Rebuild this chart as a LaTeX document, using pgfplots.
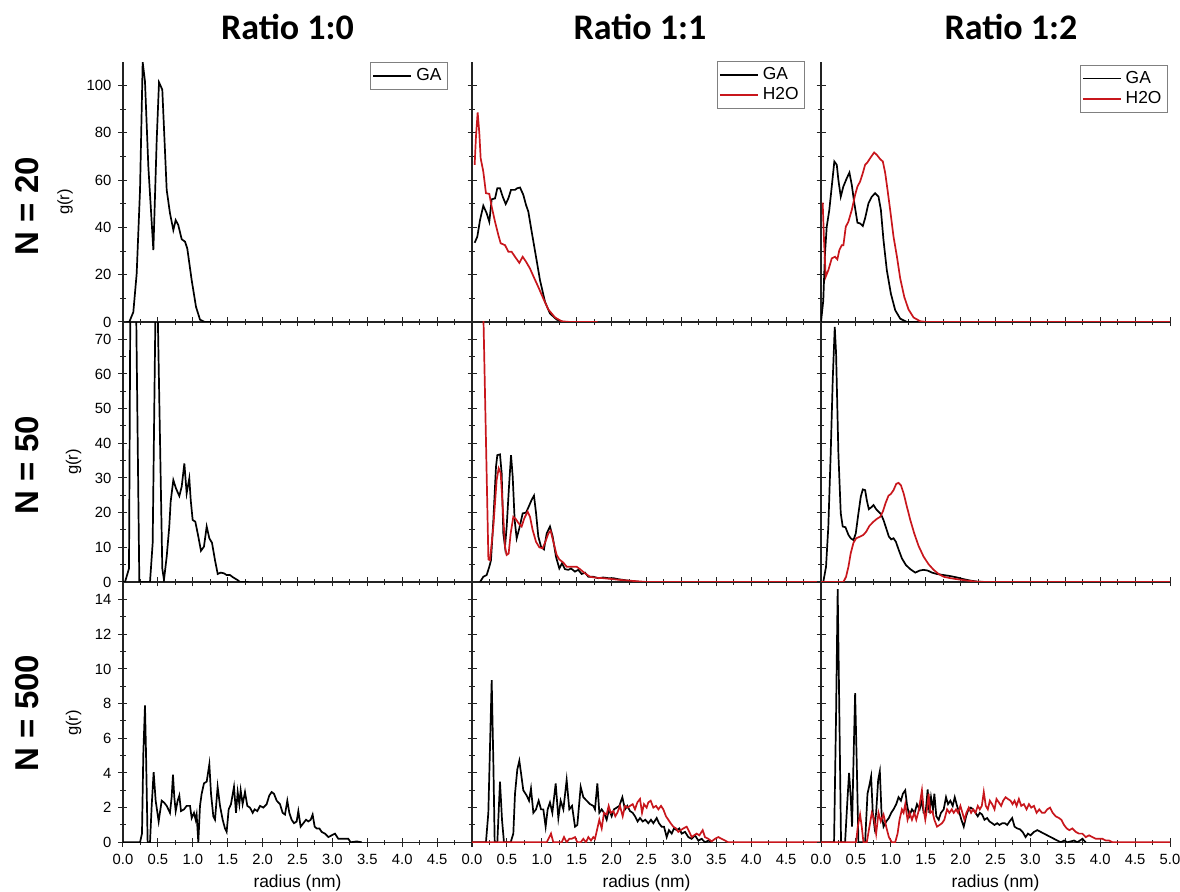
\documentclass[border=0pt]{standalone}
\usepackage{fontspec}
\setmainfont{Liberation Sans}
\newfontfamily\titlefont{Carlito}
\usepackage{pgfplots}
\pgfplotsset{compat=1.18}
\definecolor{h2ored}{RGB}{200,22,28}
\definecolor{axgray}{RGB}{35,35,35}

\pgfplotsset{
  panel/.style={
    scale only axis, width=174.5pt, height=130pt,
    xmin=0, xmax=5, ymin=0,
    axis x line=bottom, axis y line=left,
    axis line style={-, axgray, line width=0.6pt},
    xtick={0,0.5,1,1.5,2,2.5,3,3.5,4,4.5,5},
    minor x tick num=1, minor y tick num=1,
    tick align=center, major tick length=4.5pt, minor tick length=2.6pt,
    tick style={axgray, line width=0.5pt},
    every tick label/.append style={font=\fontsize{7.4}{8}\selectfont},
    /pgf/number format/assume math mode=true,
    legend cell align=left,
    legend image code/.code={\draw[##1, line width=0.9pt] (0pt,0pt) -- (19pt,0pt);},
    legend style={draw=gray, font=\fontsize{8.7}{9}\selectfont, inner sep=1pt, row sep=-1.5pt, anchor=north east},
    clip mode=individual,
  },
  ga/.style={black, line width=0.85pt, mark=none},
  wa/.style={h2ored, line width=0.85pt, mark=none},
  row1/.style={ymax=110, ytick={0,20,40,60,80,100}},
  row2/.style={ymax=75, ytick={0,10,20,30,40,50,60,70}},
  row3/.style={ymax=15, ytick={0,2,4,6,8,10,12,14}},
}

\begin{document}
\begin{tikzpicture}
\useasboundingbox (0,0) rectangle (590pt,446pt);

% ---------------- Row 1: N = 20 ----------------
\begin{axis}[panel, row1, at={(61.5pt,285pt)}, anchor=south west, xticklabels={},
  legend style={at={(0.931,1.0)}}]
\addplot[ga] coordinates {(0.05,0)(0.09,0)(0.148,4.2)(0.196,20.5)(0.244,55.9)(0.282,109.9)(0.315,101.8)(0.363,65.8)(0.435,30.4)(0.483,77.1)(0.516,101.4)(0.563,98.3)(0.626,55.9)(0.673,46)(0.721,38.9)(0.755,43.1)(0.792,41)(0.841,35)(0.888,34)(0.921,31.1)(0.984,17.7)(1.046,6.4)(1.103,1)(1.17,0)(1.3,0)};
\addlegendentry{GA}
\end{axis}

\begin{axis}[panel, row1, at={(236pt,285pt)}, anchor=south west, xticklabels={}, yticklabels={},
  legend style={at={(0.954,1.005)}}]
\addplot[ga] coordinates {(0.038,33.5)(0.076,36.1)(0.115,43.1)(0.162,49.2)(0.21,46)(0.248,42.4)(0.282,51.9)(0.33,52.3)(0.363,56.6)(0.401,56.6)(0.44,53)(0.483,49.9)(0.521,52.3)(0.559,55.9)(0.616,55.9)(0.649,56.6)(0.688,56.9)(0.735,53.8)(0.774,49.5)(0.807,46.7)(0.855,38.2)(0.917,27.6)(0.974,17.7)(1.046,8.5)(1.117,3.6)(1.213,1)(1.31,0)(1.5,0)};
\addlegendentry{GA}
\addplot[wa] coordinates {(0.038,66.5)(0.057,78.5)(0.081,88.7)(0.105,79.9)(0.124,69.3)(0.162,63.6)(0.2,54.5)(0.248,54.2)(0.282,48.8)(0.33,42.4)(0.377,36.8)(0.411,33.3)(0.473,32.5)(0.521,29.7)(0.568,29.7)(0.616,27.6)(0.678,25)(0.726,27.6)(0.774,25.5)(0.831,22.6)(0.888,18.8)(0.95,14.8)(1.022,9.9)(1.093,5.3)(1.19,1.9)(1.285,0.3)(1.4,0)(1.8,0)};
\addlegendentry{H2O}
\end{axis}

\begin{axis}[panel, row1, at={(410.5pt,285pt)}, anchor=south west, xticklabels={}, yticklabels={},
  legend style={at={(0.994,0.99)}}]
\addplot[ga] coordinates {(0,0)(0.033,9.2)(0.057,29)(0.082,40.3)(0.119,47.4)(0.154,57.3)(0.191,67.9)(0.226,66.5)(0.249,60.1)(0.283,53)(0.32,57.3)(0.369,60.8)(0.407,63.2)(0.441,58)(0.474,50.9)(0.522,42)(0.56,41.7)(0.599,40.6)(0.632,43.9)(0.68,50.2)(0.728,53)(0.776,54.5)(0.824,53)(0.858,47.4)(0.895,34.7)(0.943,21.9)(1.001,12)(1.063,5)(1.135,1.4)(1.23,0)(1.4,0)};
\addlegendentry{GA}
\addplot[wa] coordinates {(0.024,50.5)(0.043,34.7)(0.067,19.1)(0.105,21.9)(0.154,26.9)(0.201,27.6)(0.234,26.5)(0.263,30.4)(0.297,32.5)(0.321,32.5)(0.355,40.3)(0.392,42.4)(0.441,47.4)(0.489,53.8)(0.522,57.3)(0.56,59.4)(0.599,63)(0.632,66.5)(0.665,67.5)(0.704,69.3)(0.761,71.7)(0.8,70.7)(0.848,68.9)(0.886,67.9)(0.92,63)(0.953,55.9)(0.991,47.4)(1.039,36.1)(1.088,27.6)(1.135,18.4)(1.193,10.6)(1.254,5.3)(1.326,1.9)(1.422,0.3)(1.52,0)(5,0)};
\addlegendentry{H2O}
\end{axis}

% ---------------- Row 2: N = 50 ----------------
\begin{axis}[panel, row2, at={(61.5pt,155pt)}, anchor=south west, xticklabels={}]
\addplot[ga] coordinates {(0,0)(0.029,0)(0.086,3.9)(0.13,180)(0.234,0)(0.387,0)(0.425,11.2)(0.478,100)(0.563,3.9)(0.587,0.6)(0.626,7.3)(0.663,16)(0.683,23.2)(0.721,29.4)(0.759,27)(0.807,24.8)(0.841,27.5)(0.879,34.2)(0.912,25.6)(0.95,29.9)(0.97,23.7)(0.998,17.9)(1.036,17.4)(1.079,13.1)(1.117,9)(1.16,10.2)(1.199,16)(1.237,12.6)(1.275,11.3)(1.318,6.3)(1.357,2.3)(1.399,2.7)(1.447,2.5)(1.485,2)(1.533,2)(1.58,1.3)(1.638,0.6)(1.676,0)(1.8,0)};
\end{axis}

\begin{axis}[panel, row2, at={(236pt,155pt)}, anchor=south west, xticklabels={}, yticklabels={}]
\addplot[ga] coordinates {(0.115,0)(0.162,1.5)(0.21,2)(0.248,4.4)(0.272,6.3)(0.306,17.8)(0.344,33.3)(0.363,36.6)(0.401,36.8)(0.425,31.4)(0.449,14)(0.473,10.2)(0.497,16)(0.53,27.5)(0.559,36.6)(0.583,30.4)(0.611,17.9)(0.64,12.6)(0.678,15.5)(0.726,19.8)(0.774,20)(0.812,21.7)(0.855,23.7)(0.888,24.9)(0.917,20)(0.95,13.1)(0.989,10.2)(1.031,9.4)(1.07,14)(1.117,16)(1.156,13.1)(1.203,7.3)(1.251,3.9)(1.289,5.4)(1.332,3.7)(1.38,3.5)(1.418,3.9)(1.475,3)(1.523,3.5)(1.571,2.3)(1.619,2.7)(1.667,1.5)(1.738,1.5)(1.81,1.1)(1.881,1.3)(1.953,1.1)(2.025,1.1)(2.096,0.8)(2.168,0.6)(2.263,0.3)(2.407,0)};
\addplot[wa] coordinates {(0.15,90)(0.235,6.5)(0.258,6.3)(0.306,16)(0.353,29.4)(0.382,32.8)(0.411,31.4)(0.44,21.7)(0.473,10.2)(0.497,7.8)(0.525,8.2)(0.554,14)(0.592,18.8)(0.63,18.1)(0.668,16.9)(0.711,16)(0.75,18.4)(0.797,20.3)(0.831,18.8)(0.869,15)(0.917,11.6)(0.965,10)(1.012,9.7)(1.051,11.6)(1.094,14)(1.127,14.8)(1.165,11.6)(1.213,7.8)(1.251,6.5)(1.308,5.6)(1.356,4.4)(1.418,4.4)(1.499,4.4)(1.547,3.7)(1.619,2.5)(1.69,1.5)(1.786,1.2)(1.881,1.1)(1.977,0.9)(2.12,0.6)(2.311,0.3)(2.502,0)(5,0)};
\end{axis}

\begin{axis}[panel, row2, at={(410.5pt,155pt)}, anchor=south west, xticklabels={}, yticklabels={}]
\addplot[ga] coordinates {(0,0)(0.033,0)(0.072,4.4)(0.105,16)(0.139,37.1)(0.168,58.3)(0.197,73.6)(0.216,66)(0.249,37.1)(0.283,19.8)(0.311,16)(0.35,15.8)(0.393,13.6)(0.426,12.6)(0.465,12.1)(0.498,14)(0.536,19.8)(0.57,24.6)(0.599,26.7)(0.632,26.5)(0.656,23.6)(0.685,21)(0.718,21.5)(0.752,22.2)(0.79,21)(0.824,20.3)(0.858,19.6)(0.895,17.9)(0.934,15.5)(0.972,13.1)(1.006,12.3)(1.039,12.6)(1.073,11.6)(1.111,9.4)(1.159,6.8)(1.216,4.9)(1.279,3.7)(1.351,2.7)(1.413,3.3)(1.47,3.5)(1.528,3.3)(1.59,2.7)(1.662,2.3)(1.758,2)(1.853,1.7)(1.949,1.3)(2.045,0.8)(2.141,0.4)(2.237,0.1)(2.332,0)};
\addplot[wa] coordinates {(0,0)(0.321,0)(0.359,1.5)(0.393,4.4)(0.426,8.3)(0.465,11.3)(0.503,12.6)(0.56,13.1)(0.608,13.6)(0.647,14.5)(0.694,16.2)(0.752,17.4)(0.8,18.2)(0.848,18.8)(0.886,20.3)(0.924,22.7)(0.967,24.9)(1.001,25.4)(1.039,26.5)(1.078,28.3)(1.111,28.6)(1.145,27.9)(1.183,25.6)(1.231,21.7)(1.279,17.9)(1.336,14)(1.398,10.4)(1.47,7.3)(1.542,5.1)(1.614,3.5)(1.686,2.3)(1.758,1.5)(1.853,1.1)(1.949,0.8)(2.093,0.4)(2.237,0.1)(2.38,0)(5,0)};
\end{axis}

% ---------------- Row 3: N = 500 ----------------
\begin{axis}[panel, row3, at={(61.5pt,24.85pt)}, anchor=south west,
  xticklabels={0.0,0.5,1.0,1.5,2.0,2.5,3.0,3.5,4.0,4.5,}]
\addplot[ga] coordinates {(0,0)(0.244,0)(0.272,0.5)(0.291,5.1)(0.315,7.9)(0.33,5.1)(0.353,0)(0.387,0)(0.411,2.1)(0.439,4.05)(0.468,2.4)(0.511,1.2)(0.554,2.4)(0.587,2.3)(0.626,2.1)(0.673,1.7)(0.697,2.6)(0.716,3.9)(0.735,2.6)(0.755,1.8)(0.783,2.4)(0.807,2.7)(0.831,1.8)(0.874,1.9)(0.912,2.1)(0.96,2.1)(0.984,1.4)(1.017,1.7)(1.041,1.3)(1.055,1.6)(1.079,0)(1.103,2.1)(1.127,2.8)(1.16,3.4)(1.199,3.5)(1.237,4.5)(1.261,2.8)(1.294,1.5)(1.318,1.3)(1.356,3.2)(1.39,2.1)(1.428,1.3)(1.461,0.8)(1.485,0.6)(1.514,1.9)(1.547,2.2)(1.59,3.2)(1.619,1.7)(1.643,2.9)(1.667,2.2)(1.686,3)(1.714,2.2)(1.748,2.9)(1.781,2.1)(1.819,2)(1.858,1.7)(1.886,1.9)(1.925,1.8)(1.963,2.1)(2.011,2)(2.058,2.2)(2.096,2.7)(2.13,2.9)(2.163,2.8)(2.202,2.4)(2.249,2.2)(2.287,1.7)(2.321,1.6)(2.354,2.4)(2.383,1.7)(2.416,1.3)(2.45,1.1)(2.488,1.2)(2.512,1.8)(2.545,0.9)(2.584,1.1)(2.622,1.3)(2.655,1.2)(2.689,1.3)(2.717,1.6)(2.746,0.9)(2.775,0.8)(2.813,0.8)(2.846,0.6)(2.894,0.5)(2.942,0.3)(2.989,0.4)(3.037,0.5)(3.085,0.2)(3.133,0.2)(3.181,0.2)(3.228,0.2)(3.262,0)(3.348,0.05)(3.42,0)};
\end{axis}

\begin{axis}[panel, row3, at={(236pt,24.85pt)}, anchor=south west, yticklabels={},
  xticklabels={0.0,0.5,1.0,1.5,2.0,2.5,3.0,3.5,4.0,4.5,}]
\addplot[ga] coordinates {(0,0)(0.2,0)(0.234,1.7)(0.282,9.35)(0.306,4.6)(0.325,0)(0.363,0)(0.401,3.5)(0.43,1.3)(0.458,0)(0.554,0)(0.592,0.5)(0.616,2.8)(0.649,4.2)(0.678,4.7)(0.702,4)(0.735,3)(0.783,2.7)(0.817,2.4)(0.845,3.1)(0.879,1.7)(0.917,1.9)(0.955,2.4)(0.989,1.9)(1.022,1.9)(1.055,0.9)(1.084,1.9)(1.117,2.3)(1.151,1.7)(1.199,3.4)(1.237,1.4)(1.27,2.4)(1.309,1.9)(1.356,3.6)(1.394,1.9)(1.433,2.1)(1.476,0.9)(1.509,1)(1.557,3.2)(1.595,2.6)(1.643,2.4)(1.691,2.2)(1.738,2.1)(1.762,1.9)(1.796,3.4)(1.824,1.7)(1.858,1.9)(1.891,1.7)(1.929,1.3)(1.963,1.9)(2.001,1.5)(2.034,1.9)(2.073,2)(2.111,2.1)(2.154,2.6)(2.192,1.9)(2.225,2.1)(2.264,1.8)(2.302,1.7)(2.335,1.5)(2.373,1.2)(2.407,1.4)(2.445,1.2)(2.483,1.3)(2.526,1.1)(2.564,1.3)(2.598,1.1)(2.646,1.4)(2.679,1.1)(2.717,0.9)(2.751,0.9)(2.789,0.3)(2.822,0.7)(2.861,0.5)(2.894,0.8)(2.932,0.7)(2.97,0.8)(3.004,0.5)(3.052,0.6)(3.099,0.3)(3.147,0.2)(3.195,0.4)(3.243,0.1)(3.29,0.2)(3.338,0)(3.386,0.1)(3.434,0)};
\addplot[wa] coordinates {(0,0)(1.07,0)(1.108,0.3)(1.132,0.5)(1.165,0)(1.285,0)(1.318,0.3)(1.356,0)(1.394,0.2)(1.428,0.2)(1.476,0.3)(1.509,0)(1.557,0)(1.595,0.2)(1.633,0)(1.667,0.3)(1.705,0.1)(1.738,0.3)(1.762,0.2)(1.796,0.8)(1.824,1.3)(1.858,0.8)(1.891,1.7)(1.929,1.6)(1.958,2.1)(1.987,1.7)(2.025,1.8)(2.053,1.5)(2.082,1.7)(2.12,2.1)(2.159,1.5)(2.192,2.1)(2.23,2)(2.264,2.1)(2.302,2.2)(2.335,1.9)(2.369,2.3)(2.407,2.5)(2.436,1.7)(2.464,2.2)(2.502,2)(2.526,2.3)(2.56,2.4)(2.598,2)(2.636,2.1)(2.67,1.9)(2.708,2.1)(2.741,1.9)(2.779,1.5)(2.813,1.3)(2.846,1.1)(2.884,0.9)(2.923,0.8)(2.956,0.6)(2.99,0.7)(3.028,0.8)(3.075,0.9)(3.114,0.6)(3.147,0.3)(3.181,0.4)(3.219,0.5)(3.257,0.4)(3.305,0.7)(3.338,0.3)(3.386,0.2)(3.434,0.05)(3.481,0.2)(3.529,0.3)(3.577,0.2)(3.625,0.1)(3.672,0)(5,0)};
\end{axis}

\begin{axis}[panel, row3, at={(410.5pt,24.85pt)}, anchor=south west, yticklabels={},
  xticklabels={0.0,0.5,1.0,1.5,2.0,2.5,3.0,3.5,4.0,4.5,5.0}]
\addplot[ga] coordinates {(0,0)(0.187,0)(0.216,7.4)(0.239,14.6)(0.263,7.4)(0.287,0)(0.345,0)(0.378,2.4)(0.402,4)(0.426,2.6)(0.445,0.9)(0.465,4.6)(0.489,8.6)(0.512,4.6)(0.536,0)(0.632,0)(0.666,2.8)(0.694,3.3)(0.718,3.8)(0.742,1.7)(0.766,0.9)(0.79,1.7)(0.819,3.6)(0.843,4.1)(0.867,1.7)(0.896,0.9)(0.934,1.2)(0.972,1.4)(1.006,1.7)(1.039,1.9)(1.078,2.2)(1.111,2.6)(1.145,2.4)(1.173,2.8)(1.207,3)(1.231,2.2)(1.264,1.5)(1.303,1.9)(1.341,1.7)(1.375,2.2)(1.413,1.9)(1.446,2.4)(1.47,1.7)(1.499,1.7)(1.528,3.05)(1.552,1.7)(1.576,2.6)(1.604,1.9)(1.624,2.8)(1.652,1.5)(1.686,1.3)(1.719,1.7)(1.758,1.9)(1.791,2.6)(1.82,2.2)(1.853,2.4)(1.887,2.1)(1.916,2.6)(1.949,2.1)(1.983,1.7)(2.011,1.3)(2.045,0.9)(2.079,1.5)(2.112,1.9)(2.146,2)(2.179,1.9)(2.213,1.7)(2.246,1.5)(2.275,1.7)(2.308,1.6)(2.342,1.3)(2.38,1.4)(2.414,1.2)(2.452,1.1)(2.486,1)(2.524,1.1)(2.557,1)(2.596,1.1)(2.634,1.1)(2.668,1)(2.701,1.2)(2.739,1.4)(2.773,0.9)(2.811,0.8)(2.85,0.75)(2.888,0.6)(2.931,0.3)(2.965,0.5)(3.003,0.4)(3.051,0.6)(3.099,0.7)(3.147,0.6)(3.194,0.5)(3.242,0.4)(3.29,0.3)(3.338,0.2)(3.386,0.1)(3.434,0)(3.482,0.1)(3.53,0)(3.625,0.1)(3.673,0)(3.745,0.2)(3.793,0)};
\addplot[wa] coordinates {(0,0)(0.503,0)(0.527,0.9)(0.56,1.6)(0.584,0.9)(0.608,0)(0.656,0)(0.694,0.9)(0.728,1.7)(0.762,1.3)(0.79,0.5)(0.824,1.7)(0.857,1.2)(0.896,1.6)(0.934,0.9)(0.972,0.3)(1.015,0)(1.063,0)(1.097,0.5)(1.125,1.3)(1.159,1.9)(1.183,1.7)(1.207,2.2)(1.24,1.3)(1.269,1.7)(1.303,1.3)(1.336,1.7)(1.365,1.3)(1.398,1.8)(1.422,2.4)(1.446,3)(1.47,1.9)(1.494,1.3)(1.518,1.9)(1.542,2.8)(1.566,1.7)(1.595,1.8)(1.624,1.3)(1.662,0.9)(1.7,1)(1.734,1.1)(1.767,1.3)(1.806,1.9)(1.839,1.7)(1.873,1.9)(1.901,1.7)(1.935,1.9)(1.964,1.7)(1.997,2.1)(2.026,1.7)(2.055,1.3)(2.083,1.7)(2.117,2)(2.15,1.7)(2.179,1.9)(2.213,1.7)(2.246,2.1)(2.275,1.9)(2.304,2.1)(2.332,2.9)(2.361,2.1)(2.39,1.9)(2.419,2.4)(2.452,2.2)(2.486,1.9)(2.514,2.5)(2.548,2.3)(2.581,2.1)(2.61,2.4)(2.644,2.6)(2.677,2.5)(2.716,2.4)(2.744,2.2)(2.773,2.4)(2.802,2.1)(2.835,2.5)(2.869,2.1)(2.907,2.2)(2.945,1.9)(2.979,2.2)(3.012,2)(3.051,2.1)(3.089,1.7)(3.127,1.9)(3.166,1.7)(3.204,1.7)(3.242,1.9)(3.281,2)(3.319,1.7)(3.362,1.5)(3.41,1.4)(3.443,1.3)(3.482,1)(3.52,0.8)(3.558,0.7)(3.601,0.8)(3.649,0.6)(3.697,0.5)(3.745,0.5)(3.793,0.3)(3.841,0.4)(3.889,0.3)(3.937,0.2)(3.985,0.2)(4.033,0.2)(4.08,0.1)(4.128,0.1)(4.176,0)(5,0)};
\end{axis}

% ---------------- Titles and labels ----------------
\node[anchor=base, font=\titlefont\bfseries\fontsize{18}{20}\selectfont] at (143.75pt,426pt) {Ratio 1:0};
\node[anchor=base, font=\titlefont\bfseries\fontsize{18}{20}\selectfont] at (320pt,426pt) {Ratio 1:1};
\node[anchor=base, font=\titlefont\bfseries\fontsize{18}{20}\selectfont] at (505.5pt,426pt) {Ratio 1:2};

\node[rotate=90, anchor=base, font=\bfseries\fontsize{16.5}{18}\selectfont] at (19pt,343pt) {N = 20};
\node[rotate=90, anchor=base, font=\bfseries\fontsize{16.5}{18}\selectfont] at (19pt,213.5pt) {N = 50};
\node[rotate=90, anchor=base, font=\bfseries\fontsize{16.5}{18}\selectfont] at (19pt,89.5pt) {N = 500};

\node[rotate=90, font=\fontsize{8.3}{9}\selectfont] at (32.5pt,345pt) {g(r)};
\node[rotate=90, font=\fontsize{8.3}{9}\selectfont] at (36.75pt,215pt) {g(r)};
\node[rotate=90, font=\fontsize{8.3}{9}\selectfont] at (36.75pt,84.5pt) {g(r)};

\node[anchor=base, font=\fontsize{8.7}{10}\selectfont] at (148.75pt,2pt) {radius (nm)};
\node[anchor=base, font=\fontsize{8.7}{10}\selectfont] at (323.25pt,2pt) {radius (nm)};
\node[anchor=base, font=\fontsize{8.7}{10}\selectfont] at (497.75pt,2pt) {radius (nm)};
\end{tikzpicture}
\end{document}
